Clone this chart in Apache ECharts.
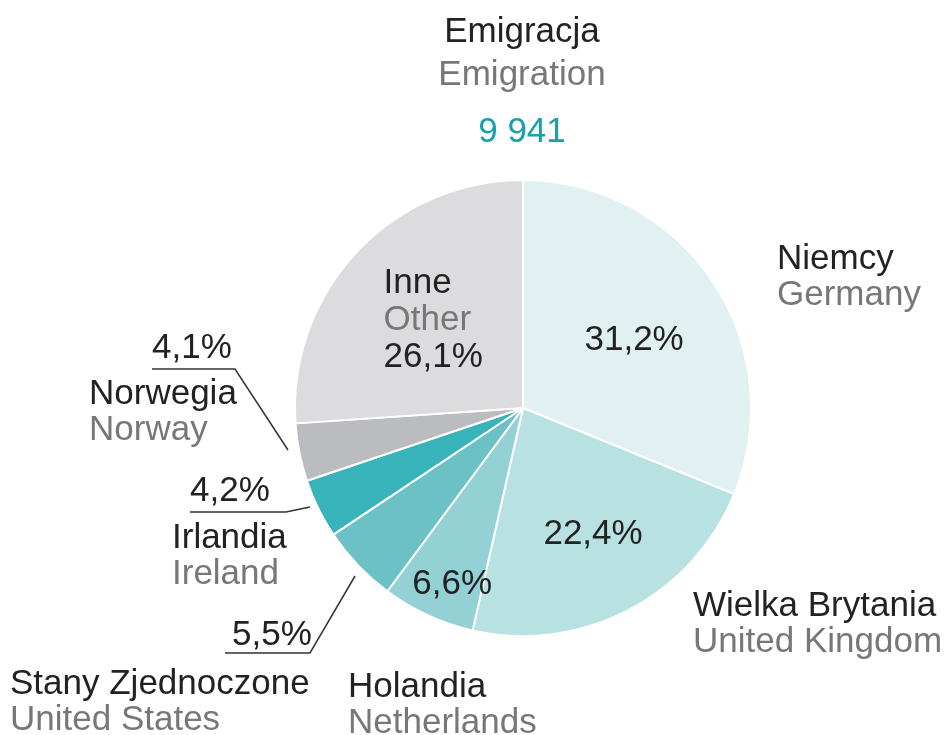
<!DOCTYPE html>
<html>
<head>
<meta charset="utf-8">
<script src="https://cdn.jsdelivr.net/npm/echarts@6/dist/echarts.min.js"></script>
<style>
html,body{margin:0;padding:0;background:#fff;}
#chart{width:947px;height:735px;}
</style>
</head>
<body>
<div id="chart"></div>
<script>
// ---- data ----
const namesPL = ['Niemcy', 'Wielka Brytania', 'Holandia', 'Stany Zjednoczone', 'Irlandia', 'Norwegia', 'Inne'];
const namesEN = ['Germany', 'United Kingdom', 'Netherlands', 'United States', 'Ireland', 'Norway', 'Other'];
const shares = [31.2, 22.4, 6.6, 5.5, 4.2, 4.1, 26.1];
const titlePL = 'Emigracja';
const titleEN = 'Emigration';
const totalText = '9 941';

// ---- styles / layout ----
const colors = ['#e1f1f2', '#b8e1e1', '#93d1d4', '#6cc1c6', '#38b3ba', '#bbbcc0', '#dcdcde'];
const insideLabel = [true, true, true, false, false, false, true];
const insideOffsets = [[14, -2], [16, 23], [-22, 70], [0, 0], [0, 0], [0, 0], [-54, -8]];
const insideAlign = [null, null, null, null, null, null, 'left'];
const nameLabelPos = [[777, 259], [693, 606], [348, 687], [10, 684], [172, 538], [89, 394], null];
const outerPctPos = [null, null, null, [232, 635], [190, 491], [152, 348], null];
const leaderLines = [null, null, null,
  [[225, 653], [310, 653], [355, 576]],
  [[190, 512], [286, 512], [310, 507]],
  [[152, 369], [235, 369], [288, 450]],
  null];

const FONT = '"Liberation Sans", Arial, sans-serif';
const FS = 35;
const DARK = '#222222';
const GRAY = '#777777';
const TEAL = '#1aa0aa';

const fmtPct = v => v.toFixed(1).replace('.', ',') + '%';

const chart = echarts.init(document.getElementById('chart'), null, {renderer: 'canvas'});

const data = shares.map((v, i) => {
  const item = {value: v, name: namesPL[i], itemStyle: {color: colors[i]}};
  if (!insideLabel[i]) item.label = {show: false};
  return item;
});

const graphics = [];
function addText(text, x, y, color, align) {
  graphics.push({
    type: 'text', x: x, y: y, silent: true,
    style: {text: text, fill: color, font: FS + 'px ' + FONT, textAlign: align || 'left', textVerticalAlign: 'middle'}
  });
}
addText(titlePL, 522, 32, DARK, 'center');
addText(titleEN, 522, 75, GRAY, 'center');
addText(totalText, 522, 132, TEAL, 'center');
nameLabelPos.forEach((p, i) => {
  if (!p) return;
  addText(namesPL[i], p[0], p[1], DARK);
  addText(namesEN[i], p[0], p[1] + 36, GRAY);
});
outerPctPos.forEach((p, i) => {
  if (!p) return;
  addText(fmtPct(shares[i]), p[0], p[1], DARK);
});
leaderLines.forEach(pts => {
  if (!pts) return;
  graphics.push({type: 'polyline', silent: true, shape: {points: pts}, style: {stroke: '#333333', lineWidth: 1.5, fill: null}});
});

chart.setOption({
  animation: false,
  backgroundColor: '#ffffff',
  series: [{
    type: 'pie',
    center: [523, 408],
    radius: [0, 228],
    startAngle: 90,
    clockwise: true,
    avoidLabelOverlap: false,
    silent: true,
    itemStyle: {borderColor: '#ffffff', borderWidth: 2},
    label: {
      show: true,
      position: 'inside',
      fontFamily: FONT,
      fontSize: FS,
      color: DARK,
      lineHeight: 37,
      formatter: p => {
        const i = p.dataIndex;
        if (namesPL[i] === 'Inne') {
          return '{a|' + namesPL[i] + '}\n{b|' + namesEN[i] + '}\n{a|' + fmtPct(shares[i]) + '}';
        }
        return fmtPct(shares[i]);
      },
      rich: {
        a: {fontFamily: FONT, fontSize: FS, color: DARK, lineHeight: 37},
        b: {fontFamily: FONT, fontSize: FS, color: GRAY, lineHeight: 37}
      }
    },
    labelLine: {show: false},
    labelLayout: p => {
      const r = {dx: insideOffsets[p.dataIndex][0], dy: insideOffsets[p.dataIndex][1]};
      if (insideAlign[p.dataIndex]) r.align = insideAlign[p.dataIndex];
      return r;
    },
    data: data
  }],
  graphic: graphics
});
</script>
</body>
</html>
